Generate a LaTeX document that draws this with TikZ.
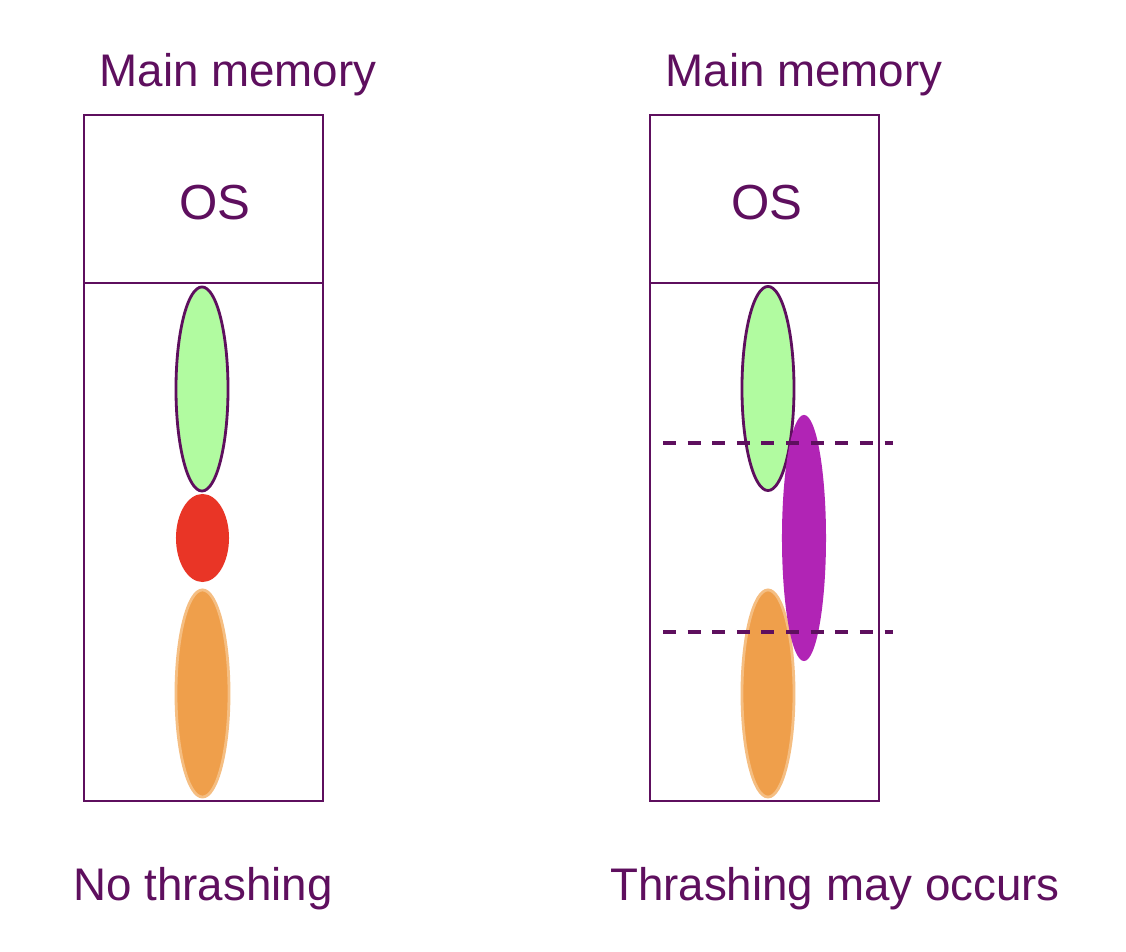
\documentclass[tikz,border=0pt]{standalone}
\usepackage{fontspec}
\setmainfont{Liberation Sans}
\usetikzlibrary{shapes.geometric, positioning}
\definecolor{memline}{RGB}{94, 15, 94}
\definecolor{pgreen}{RGB}{177, 251, 160}
\definecolor{pred}{RGB}{233, 53, 38}
\definecolor{porange}{RGB}{239, 159, 75}
\definecolor{porangeedge}{RGB}{245, 190, 130}
\definecolor{ppurple}{RGB}{177, 36, 181}
\tikzset{
  membox/.style={rectangle, draw=memline, line width=0.6pt, fill=white,
                 minimum width=#1, inner sep=0pt},
  membox/.default=2.39cm,
  memtext/.style={text=memline, font=\fontsize{13}{15}\selectfont, inner sep=0pt},
  ostext/.style={text=memline, font=\fontsize{14}{16}\selectfont, inner sep=0pt},
  proc/.style={ellipse, inner sep=0pt, minimum width=#1},
  proc/.default=0.52cm,
  workset/.style={memline, line width=0.95pt, dash pattern=on 3.7pt off 3.3pt},
}
\begin{document}
\begin{tikzpicture}[x=0.01cm, y=-0.01cm]
  \useasboundingbox (0,0) rectangle (1126,952);

  % left memory: no thrashing
  \node[memtext] (titleL) at (238,75) {Main memory};
  \node[membox, minimum height=1.68cm] (osL) at (203.5,199) {};
  \node[membox, minimum height=5.18cm] (userL) at (203.5,542) {};
  \node[ostext] (osLtext) at (215,203) {OS};
  \node[proc, fill=pgreen, draw=memline, line width=0.8pt, minimum height=2.04cm] (greenL) at (202,389) {};
  \node[proc=0.53cm, fill=pred, minimum height=0.88cm] (redL) at (202.5,538) {};
  \node[proc=0.53cm, fill=porange, draw=porangeedge, line width=0.8pt, minimum height=2.07cm] (orangeL) at (202.5,693.5) {};
  \node[memtext] (captionL) at (203,889) {No thrashing};

  % right memory: thrashing
  \node[memtext] (titleR) at (804,75) {Main memory};
  \node[membox=2.29cm, minimum height=1.68cm] (osR) at (764.5,199) {};
  \node[membox=2.29cm, minimum height=5.18cm] (userR) at (764.5,542) {};
  \node[ostext] (osRtext) at (767,203) {OS};
  \node[proc, fill=pgreen, draw=memline, line width=0.8pt, minimum height=2.04cm] (greenR) at (768,388.5) {};
  \node[proc, fill=porange, draw=porangeedge, line width=0.8pt, minimum height=2.07cm] (orangeR) at (768,693.5) {};
  \node[proc=0.44cm, fill=ppurple, minimum height=2.46cm] (purpleR) at (804,538) {};
  \coordinate (wsTopA) at (663,443);
  \coordinate (wsTopB) at (893,443);
  \coordinate (wsBotA) at (663,632);
  \coordinate (wsBotB) at (893,632);
  \draw[workset] (wsTopA) -- (wsTopB);
  \draw[workset] (wsBotA) -- (wsBotB);
  \node[memtext] (captionR) at (835,889) {Thrashing may occurs};
\end{tikzpicture}
\end{document}
